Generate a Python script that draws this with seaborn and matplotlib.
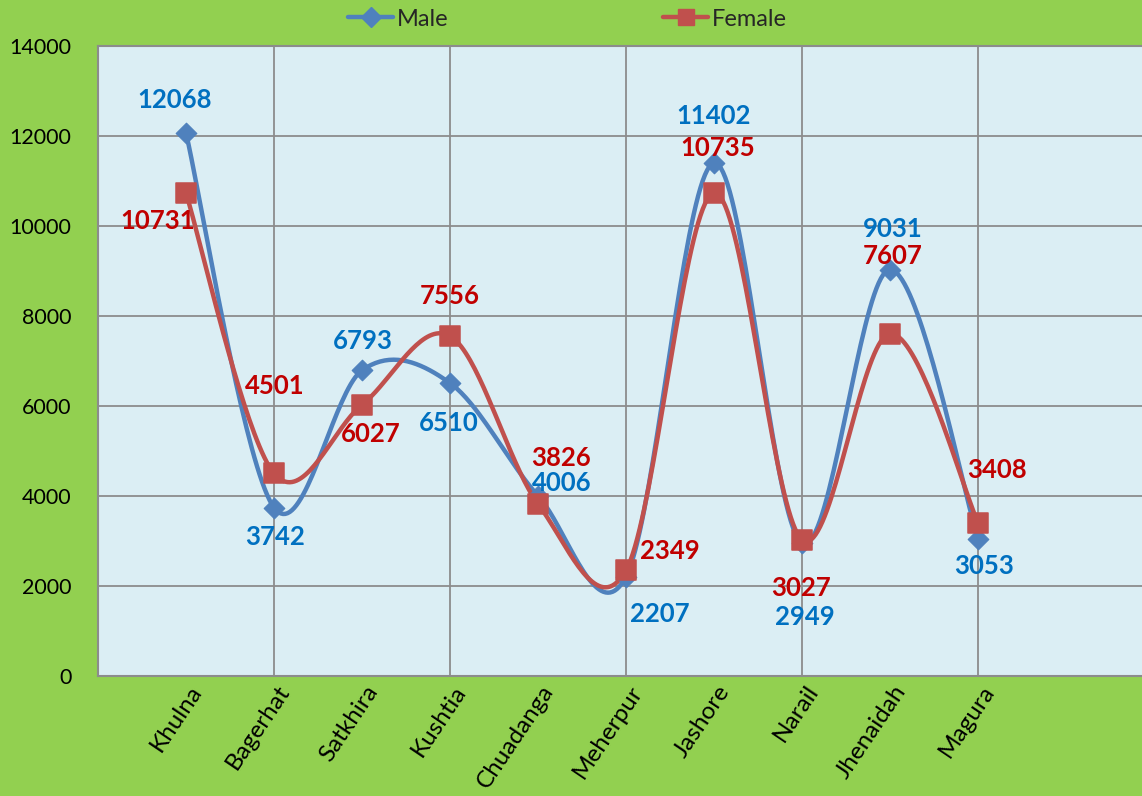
import numpy as np
import pandas as pd
import matplotlib
matplotlib.use('Agg')
import matplotlib.pyplot as plt
from matplotlib.lines import Line2D
import seaborn as sns

districts = ['Khulna', 'Bagerhat', 'Satkhira', 'Kushtia', 'Chuadanga',
             'Meherpur', 'Jashore', 'Narail', 'Jhenaidah', 'Magura']
male = [12068, 3742, 6793, 6510, 4006, 2207, 11402, 2949, 9031, 3053]
female = [10731, 4501, 6027, 7556, 3826, 2349, 10735, 3027, 7607, 3408]

# label offsets in pixels (dx, dy) from each point
male_off = [(-11, 33), (1, -29), (1, 29), (-1, -40), (24, 13),
            (34, -37), (0, 47), (3, -74), (3, 41), (6, -27)]
female_off = [(-28, -28), (1, 87), (9, -29), (0, 40), (23, 46),
              (44, 19), (4, 45), (-1, -48), (3, 78), (19, 53)]

BLUE = '#4F81BD'
RED = '#C0504D'
BLUE_TXT = '#0070C0'
RED_TXT = '#C00000'
BG = '#92D050'
PLOT_BG = '#DBEEF4'


def smooth(xs, ys, n=40):
    # cubic bezier through the points, excel style smoothing
    xs = np.asarray(xs, float)
    ys = np.asarray(ys, float)
    px = np.concatenate([[xs[0]], xs, [xs[-1]]])
    py = np.concatenate([[ys[0]], ys, [ys[-1]]])
    out_x, out_y = [], []
    t = np.linspace(0, 1, n)
    for i in range(1, len(px) - 2):
        p0 = np.array([px[i], py[i]])
        p3 = np.array([px[i + 1], py[i + 1]])
        p1 = p0 + (p3 - np.array([px[i - 1], py[i - 1]])) / 6
        p2 = p3 - (np.array([px[i + 2], py[i + 2]]) - p0) / 6
        b = ((1 - t) ** 3)[:, None] * p0 + (3 * (1 - t) ** 2 * t)[:, None] * p1 \
            + (3 * (1 - t) * t ** 2)[:, None] * p2 + (t ** 3)[:, None] * p3
        out_x.extend(b[:, 0])
        out_y.extend(b[:, 1])
    return np.array(out_x), np.array(out_y)


sns.set_theme(style='white')
plt.rcParams['font.family'] = ['Lato', 'DejaVu Sans']

fig = plt.figure(figsize=(11.42, 7.96), dpi=100, facecolor=BG)
ax = fig.add_axes([98 / 1142, 120 / 796, 1056 / 1142, 630 / 796])
ax.set_facecolor(PLOT_BG)

x = np.arange(1, len(districts) + 1)

sx, sy = smooth(x, male)
sns.lineplot(x=sx, y=sy, sort=False, color=BLUE, linewidth=3.2, ax=ax, zorder=3)
sx, sy = smooth(x, female)
sns.lineplot(x=sx, y=sy, sort=False, color=RED, linewidth=3.2, ax=ax, zorder=3)

sns.scatterplot(x=x, y=male, marker='D', s=110, color=BLUE, edgecolor=BLUE,
                ax=ax, zorder=4)
sns.scatterplot(x=x, y=female, marker='s', s=190, color=RED, edgecolor=RED,
                ax=ax, zorder=5)

for xi, v, (dx, dy) in zip(x, male, male_off):
    ax.annotate(str(v), (xi, v), xytext=(dx, dy), textcoords='offset pixels',
                ha='center', va='center', color=BLUE_TXT, fontsize=18.5,
                fontweight='bold', zorder=6)
for xi, v, (dx, dy) in zip(x, female, female_off):
    ax.annotate(str(v), (xi, v), xytext=(dx, dy), textcoords='offset pixels',
                ha='center', va='center', color=RED_TXT, fontsize=18.5,
                fontweight='bold', zorder=6)

ax.set_xlim(0, 12)
ax.set_ylim(0, 14000)
ax.set_yticks(range(0, 14001, 2000))
ax.set_xticks(range(0, 13, 2))
ax.set_xticklabels([])
ax.grid(True, color='#8C8C8C', linewidth=1.3)
ax.set_axisbelow(True)
for s in ax.spines.values():
    s.set_color('#8C8C8C')
    s.set_linewidth(1.5)
ax.tick_params(axis='both', length=0)
ax.tick_params(axis='y', pad=19, labelsize=15.5, labelcolor='black')

for xi, name in zip(x, districts):
    ax.text(xi + 0.03, -120, name, rotation=56, rotation_mode='anchor',
            ha='right', va='top', fontsize=17.5, color='black')

handles = [Line2D([], [], color=BLUE, linewidth=3.2, marker='D', markersize=10),
           Line2D([], [], color=RED, linewidth=3.2, marker='s', markersize=12)]
fig.legend(handles, ['Male', 'Female'], loc='center', bbox_to_anchor=(0.497, 0.976),
           ncol=2, frameon=False, fontsize=17, handlelength=1.9,
           handletextpad=0.15, columnspacing=9.1)

ax.set_xlabel('')
ax.set_ylabel('')
fig.savefig('out.png', dpi=100, facecolor=BG)
